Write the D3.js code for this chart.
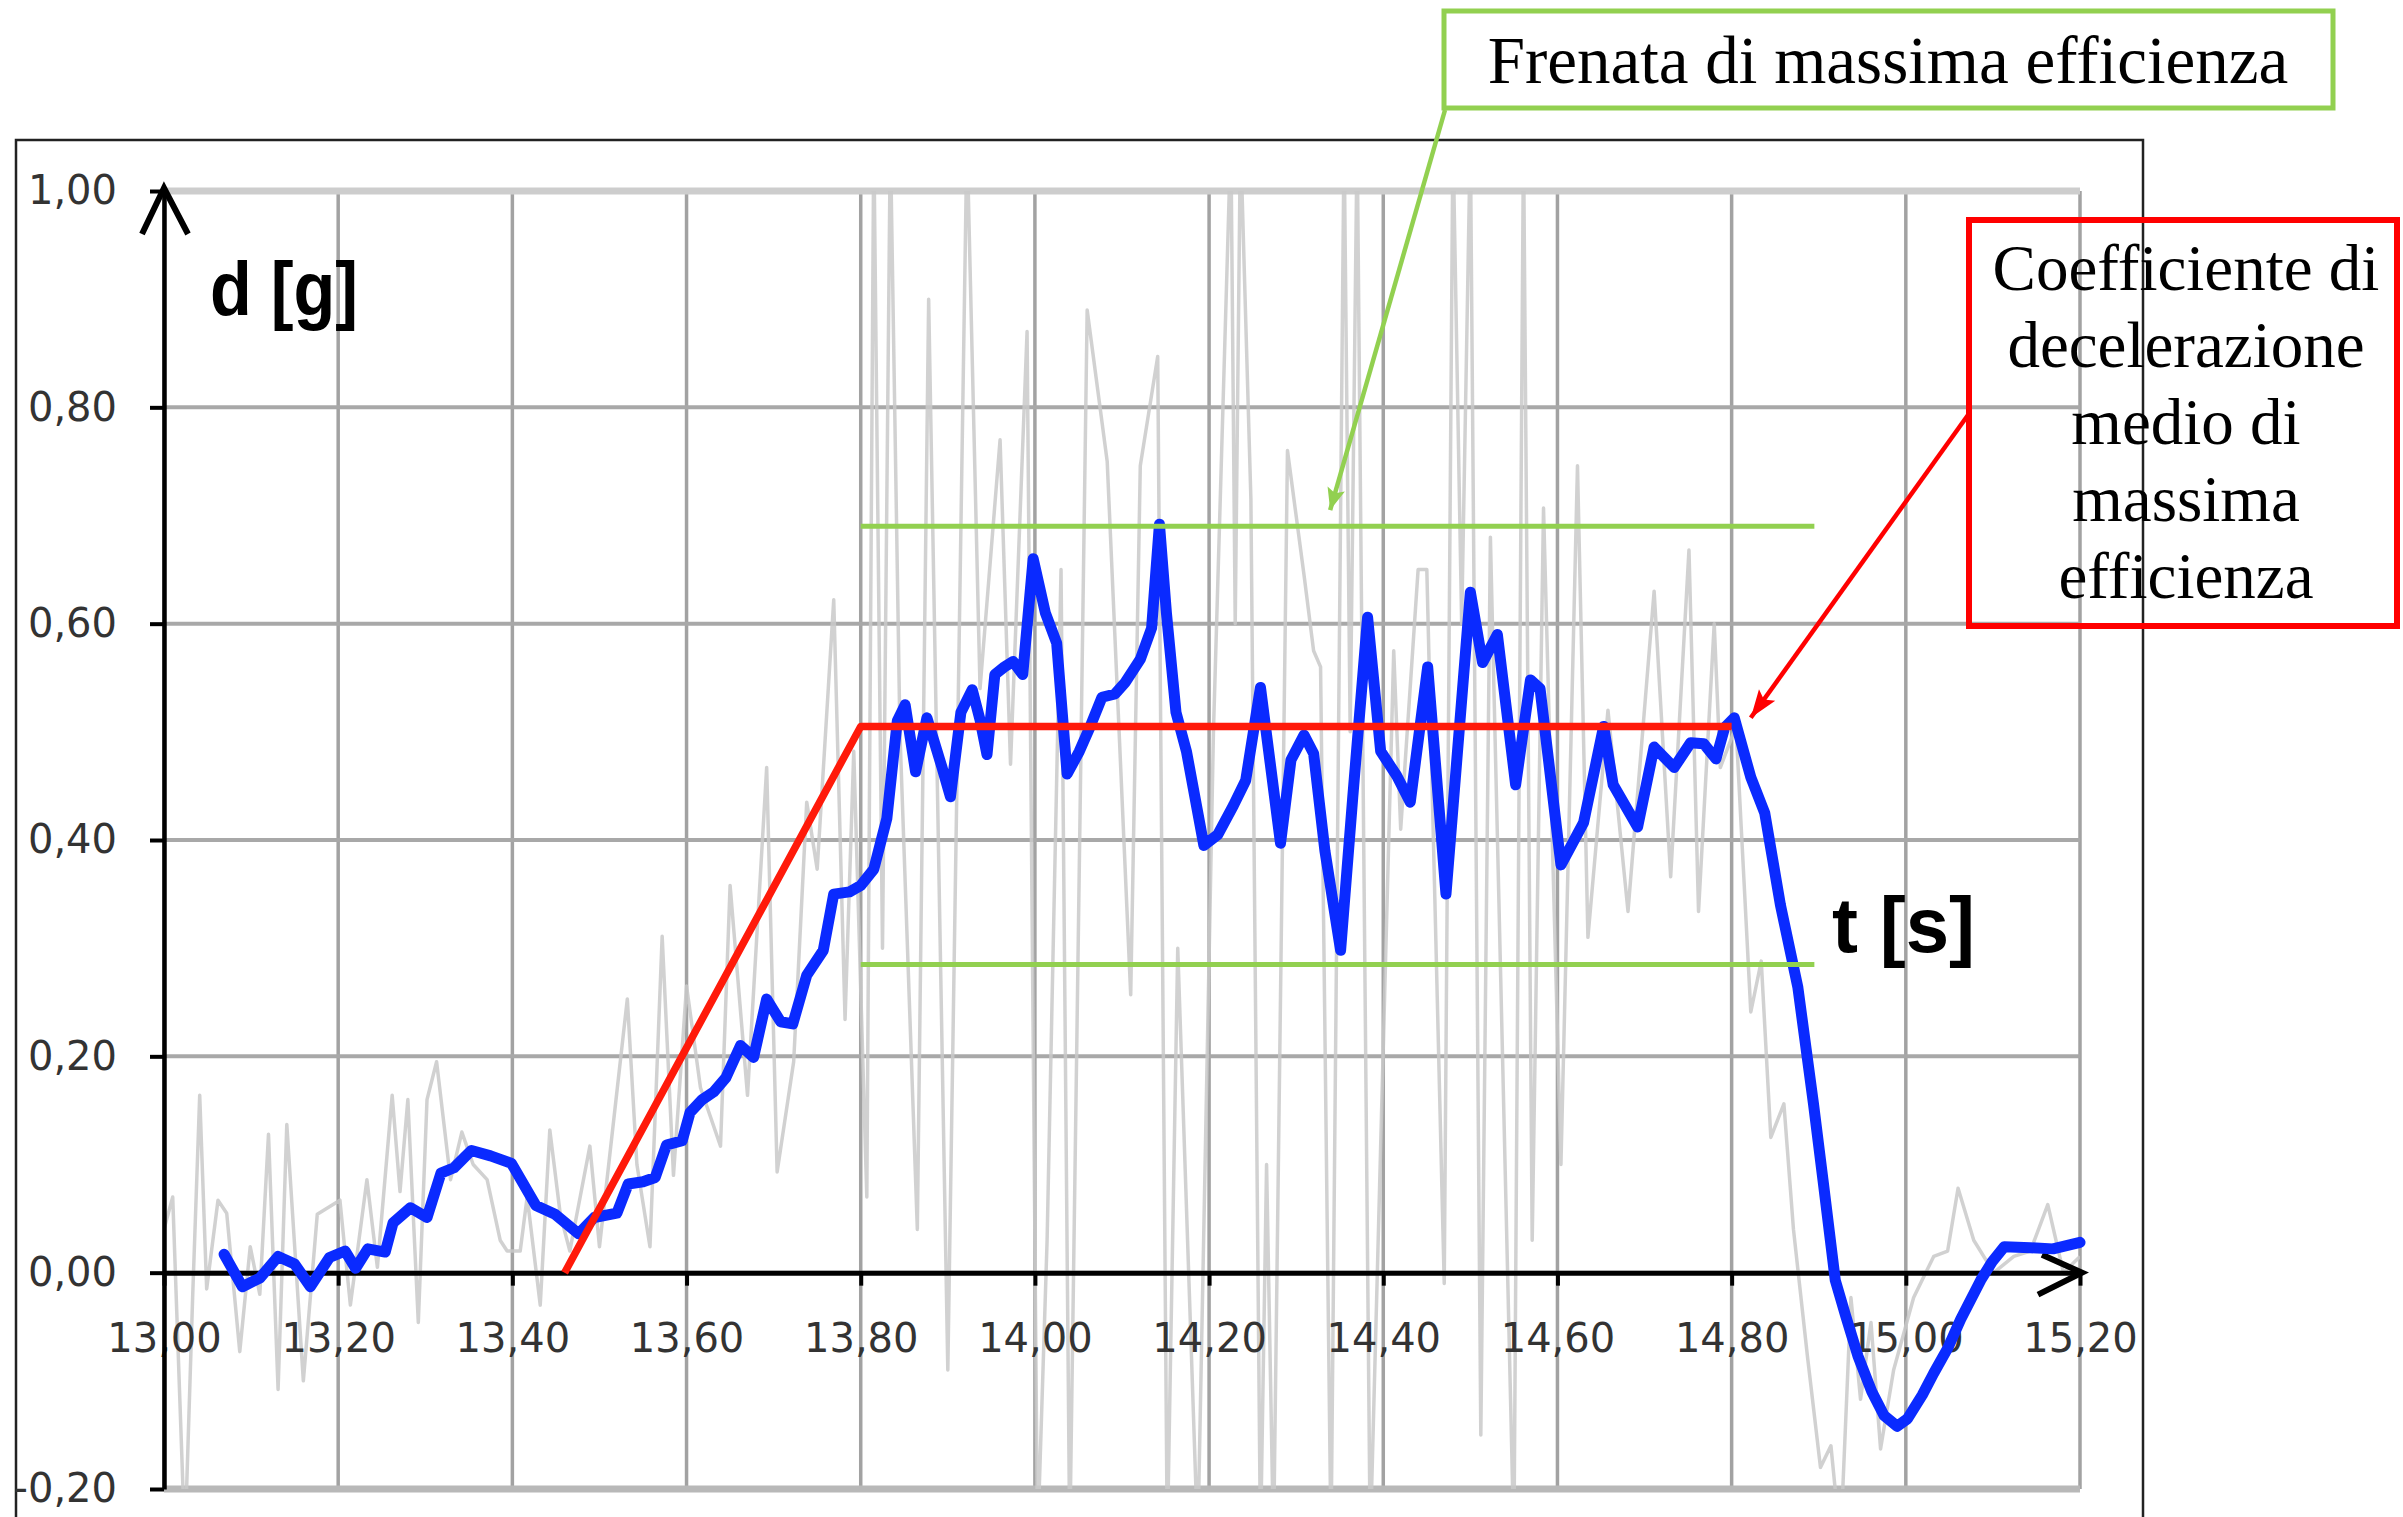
<!DOCTYPE html>
<html>
<head>
<meta charset="utf-8">
<script src="https://cdn.jsdelivr.net/npm/d3@7"></script>
<style>
  html, body { margin: 0; padding: 0; background: #ffffff; }
  svg { display: block; }
</style>
</head>
<body>
<svg id="chart" width="2403" height="1517"></svg>
<script>
// ---- axis ticks ----
const xTicks = [13.0, 13.2, 13.4, 13.6, 13.8, 14.0, 14.2, 14.4, 14.6, 14.8, 15.0, 15.2];
const yTicks = [-0.2, 0.0, 0.2, 0.4, 0.6, 0.8, 1.0];

// ---- filtered deceleration d [g] vs time t [s] ----
const smoothT = [13.069, 13.090, 13.110, 13.131, 13.150, 13.168, 13.190, 13.208, 13.220, 13.234,
  13.254, 13.263, 13.283, 13.302, 13.318, 13.333, 13.353, 13.375, 13.399, 13.427,
  13.449, 13.476, 13.494, 13.520, 13.533, 13.550, 13.564, 13.577, 13.595, 13.604,
  13.618, 13.631, 13.645, 13.662, 13.677, 13.692, 13.708, 13.722, 13.738, 13.757,
  13.769, 13.787, 13.800, 13.815, 13.830, 13.842, 13.851, 13.863, 13.876, 13.893,
  13.903, 13.915, 13.928, 13.937, 13.945, 13.954, 13.965, 13.975, 13.986, 13.998,
  14.012, 14.025, 14.037, 14.051, 14.063, 14.077, 14.092, 14.104, 14.121, 14.134,
  14.143, 14.151, 14.162, 14.174, 14.194, 14.210, 14.228, 14.242, 14.259, 14.282,
  14.294, 14.309, 14.320, 14.333, 14.351, 14.365, 14.382, 14.397, 14.415, 14.431,
  14.451, 14.472, 14.500, 14.514, 14.531, 14.552, 14.569, 14.580, 14.604, 14.630,
  14.653, 14.664, 14.692, 14.711, 14.734, 14.753, 14.768, 14.782, 14.792, 14.803,
  14.822, 14.838, 14.856, 14.876, 14.894, 14.905, 14.919, 14.931, 14.945, 14.961,
  14.975, 14.990, 15.002, 15.019, 15.032, 15.048, 15.063, 15.086, 15.099, 15.113,
  15.143, 15.169, 15.200];
const smoothD = [0.017, -0.013, -0.005, 0.015, 0.008, -0.013, 0.014, 0.020, 0.004, 0.022,
  0.019, 0.046, 0.060, 0.051, 0.092, 0.097, 0.113, 0.108, 0.101, 0.062,
  0.054, 0.036, 0.051, 0.055, 0.082, 0.084, 0.088, 0.118, 0.122, 0.148,
  0.160, 0.167, 0.180, 0.210, 0.199, 0.253, 0.232, 0.230, 0.275, 0.298,
  0.350, 0.352, 0.358, 0.373, 0.420, 0.510, 0.525, 0.463, 0.513, 0.468,
  0.440, 0.518, 0.539, 0.511, 0.479, 0.553, 0.560, 0.565, 0.553, 0.660,
  0.610, 0.582, 0.461, 0.482, 0.504, 0.532, 0.535, 0.546, 0.567, 0.596,
  0.692, 0.610, 0.518, 0.482, 0.395, 0.405, 0.432, 0.455, 0.541, 0.397,
  0.474, 0.497, 0.480, 0.390, 0.298, 0.440, 0.606, 0.482, 0.460, 0.435,
  0.560, 0.350, 0.629, 0.564, 0.590, 0.451, 0.548, 0.540, 0.377, 0.416,
  0.505, 0.451, 0.412, 0.486, 0.467, 0.490, 0.489, 0.475, 0.504, 0.513,
  0.458, 0.425, 0.340, 0.264, 0.156, 0.085, -0.007, -0.040, -0.077, -0.110,
  -0.132, -0.142, -0.135, -0.113, -0.093, -0.070, -0.043, -0.007, 0.010, 0.024,
  0.023, 0.022, 0.028];

// ---- raw accelerometer signal ----
const rawT = [13.000, 13.010, 13.024, 13.033, 13.041, 13.049, 13.062, 13.072, 13.087, 13.099,
  13.110, 13.120, 13.131, 13.141, 13.160, 13.176, 13.202, 13.214, 13.233, 13.245,
  13.262, 13.271, 13.280, 13.292, 13.302, 13.313, 13.329, 13.342, 13.355, 13.371,
  13.386, 13.394, 13.409, 13.417, 13.432, 13.443, 13.455, 13.466, 13.489, 13.500,
  13.532, 13.543, 13.558, 13.572, 13.585, 13.600, 13.616, 13.639, 13.650, 13.670,
  13.692, 13.704, 13.723, 13.738, 13.750, 13.769, 13.782, 13.792, 13.807, 13.815,
  13.825, 13.834, 13.845, 13.865, 13.878, 13.900, 13.922, 13.937, 13.960, 13.972,
  13.991, 14.003, 14.014, 14.030, 14.040, 14.060, 14.083, 14.110, 14.121, 14.141,
  14.152, 14.164, 14.187, 14.205, 14.225, 14.230, 14.236, 14.248, 14.259, 14.266,
  14.274, 14.290, 14.309, 14.320, 14.328, 14.340, 14.355, 14.362, 14.370, 14.385,
  14.412, 14.420, 14.440, 14.450, 14.470, 14.480, 14.490, 14.500, 14.512, 14.523,
  14.550, 14.561, 14.571, 14.584, 14.604, 14.623, 14.635, 14.658, 14.681, 14.711,
  14.730, 14.751, 14.762, 14.780, 14.787, 14.805, 14.822, 14.834, 14.845, 14.860,
  14.871, 14.887, 14.902, 14.914, 14.925, 14.937, 14.948, 14.960, 14.971, 14.986,
  15.009, 15.032, 15.048, 15.060, 15.078, 15.101, 15.124, 15.143, 15.163, 15.181,
  15.200];
const rawD = [0.040, 0.070, -0.250, -0.020, 0.164, -0.015, 0.067, 0.055, -0.073, 0.024,
  -0.020, 0.128, -0.108, 0.137, -0.100, 0.054, 0.067, -0.030, 0.086, 0.005,
  0.164, 0.075, 0.160, -0.046, 0.160, 0.195, 0.086, 0.130, 0.100, 0.086,
  0.030, 0.020, 0.020, 0.070, -0.030, 0.132, 0.054, 0.020, 0.117, 0.024,
  0.253, 0.100, 0.024, 0.311, 0.090, 0.265, 0.171, 0.117, 0.358, 0.164,
  0.467, 0.093, 0.195, 0.435, 0.373, 0.622, 0.234, 0.482, 0.070, 1.050,
  0.300, 1.050, 0.500, 0.040, 0.900, -0.090, 1.050, 0.540, 0.770, 0.470,
  0.870, -0.250, 0.030, 0.650, -0.250, 0.890, 0.750, 0.257, 0.746, 0.847,
  -0.250, 0.300, -0.250, 0.500, 1.050, 0.600, 1.050, 0.715, -0.250, 0.100,
  -0.250, 0.760, 0.645, 0.575, 0.560, -0.250, 1.050, 0.500, 1.050, -0.250,
  0.575, 0.410, 0.650, 0.650, -0.010, 1.050, 0.600, 1.050, -0.150, 0.680,
  -0.250, 1.050, 0.030, 0.707, 0.100, 0.746, 0.310, 0.520, 0.334, 0.630,
  0.366, 0.668, 0.334, 0.600, 0.467, 0.505, 0.241, 0.288, 0.125, 0.156,
  0.040, -0.077, -0.180, -0.160, -0.250, -0.023, -0.117, -0.046, -0.163, -0.090,
  -0.023, 0.015, 0.020, 0.078, 0.030, 0.000, 0.015, 0.020, 0.063, 0.000,
  0.015];

// ---- mean deceleration trapezoid and max-efficiency band ----
const meanT = [13.46, 13.80, 14.80];
const meanD = [0.0, 0.505, 0.505];
const bandT = [13.80, 14.895];
const bandLevels = [0.69, 0.285];

// ---- annotation targets (data space) ----
const bandArrowTip = [14.339, 0.705];
const meanArrowTip = [14.822, 0.513];

const svg = d3.select("#chart");

const x = d3.scaleLinear().domain([13.0, 15.2]).range([164, 2080]);
const y = d3.scaleLinear().domain([-0.2, 1.0]).range([1489, 191]);

const locale = d3.formatLocale({decimal: ",", thousands: ".", grouping: [3], currency: ["", ""], minus: "-"});
const fmt = locale.format(".2f");

const [x0, x1] = x.range();
const [yb, yt] = y.range();

// outer chart frame
svg.append("rect")
  .attr("x", 16).attr("y", 140).attr("width", 2127).attr("height", 1500)
  .attr("fill", "none").attr("stroke", "#222").attr("stroke-width", 2.5);

// grid
const grid = svg.append("g");
grid.selectAll("line.v").data(xTicks).join("line")
  .attr("class", "v")
  .attr("x1", d => x(d)).attr("x2", d => x(d))
  .attr("y1", yt).attr("y2", yb)
  .attr("stroke", "#a2a2a2").attr("stroke-width", 3.5);
grid.selectAll("line.h").data(yTicks).join("line")
  .attr("class", "h")
  .attr("x1", x0).attr("x2", x1)
  .attr("y1", d => y(d)).attr("y2", d => y(d))
  .attr("stroke", d => d === 1.0 ? "#cdcdcd" : (d === -0.2 ? "#b8b8b8" : "#a8a8a8"))
  .attr("stroke-width", d => (d === 1.0 || d === -0.2) ? 7 : 4);

// raw signal, clipped to the plot area
svg.append("clipPath").attr("id", "plotClip")
  .append("rect").attr("x", x0).attr("y", yt).attr("width", x1 - x0).attr("height", yb - yt);

const raw = rawT.map((t, i) => [t, rawD[i]]);
svg.append("path")
  .datum(raw)
  .attr("clip-path", "url(#plotClip)")
  .attr("fill", "none")
  .attr("stroke", "#c9c9c9")
  .attr("stroke-opacity", 0.85)
  .attr("stroke-width", 3.5)
  .attr("stroke-linejoin", "round")
  .attr("d", d3.line().x(d => x(d[0])).y(d => y(d[1])));

// axes
const fontTick = "'DejaVu Sans', Verdana, sans-serif";
const xAxis = svg.append("g")
  .attr("transform", `translate(0,${y(0)})`)
  .call(d3.axisBottom(x).tickValues(xTicks).tickSize(13).tickSizeOuter(0).tickPadding(38).tickFormat(fmt));
xAxis.select(".domain").attr("stroke", "#000").attr("stroke-width", 5);
xAxis.selectAll(".tick line").attr("stroke", "#000").attr("stroke-width", 4);
xAxis.selectAll(".tick text")
  .attr("font-family", fontTick).attr("font-size", 40).attr("fill", "#333");

const yAxis = svg.append("g")
  .attr("transform", `translate(${x0},0)`)
  .call(d3.axisLeft(y).tickValues(yTicks).tickSize(14).tickSizeOuter(0).tickPadding(33).tickFormat(fmt));
yAxis.select(".domain").attr("stroke", "#000").attr("stroke-width", 4.5);
yAxis.selectAll(".tick line").attr("stroke", "#000").attr("stroke-width", 4);
yAxis.selectAll(".tick text")
  .attr("font-family", fontTick).attr("font-size", 40).attr("fill", "#333");

// axis arrowheads
const yTip = [x0, yt - 3];
svg.append("path")
  .attr("d", `M${yTip[0] - 22},${yTip[1] + 46} L${yTip[0]},${yTip[1]} L${yTip[0] + 24},${yTip[1] + 46}`)
  .attr("fill", "none").attr("stroke", "#000").attr("stroke-width", 6);
const xTip = [x1 + 2, y(0)];
svg.append("path")
  .attr("d", `M${xTip[0] - 40},${xTip[1] - 18} L${xTip[0]},${xTip[1]} L${xTip[0] - 44},${xTip[1] + 22}`)
  .attr("fill", "none").attr("stroke", "#000").attr("stroke-width", 6);

// axis titles
const fontTitle = "'Liberation Sans', Arial, sans-serif";
svg.append("text").text("d [g]")
  .attr("x", 210).attr("y", 315)
  .attr("font-family", fontTitle).attr("font-weight", "bold").attr("font-size", 76)
  .attr("textLength", 148).attr("lengthAdjust", "spacingAndGlyphs");
svg.append("text").text("t [s]")
  .attr("x", 1832).attr("y", 952)
  .attr("font-family", fontTitle).attr("font-weight", "bold").attr("font-size", 78)
  .attr("textLength", 143).attr("lengthAdjust", "spacingAndGlyphs");

// filtered deceleration
const smooth = smoothT.map((t, i) => [t, smoothD[i]]);
svg.append("path")
  .datum(smooth)
  .attr("fill", "none")
  .attr("stroke", "#0a2aff")
  .attr("stroke-width", 11)
  .attr("stroke-linejoin", "round")
  .attr("stroke-linecap", "round")
  .attr("d", d3.line().x(d => x(d[0])).y(d => y(d[1])));

// max-efficiency band limits
svg.selectAll("line.band").data(bandLevels).join("line")
  .attr("class", "band")
  .attr("x1", x(bandT[0])).attr("x2", x(bandT[1]))
  .attr("y1", d => y(d)).attr("y2", d => y(d))
  .attr("stroke", "#92d050").attr("stroke-width", 5);

// mean deceleration profile
const mean = meanT.map((t, i) => [t, meanD[i]]);
svg.append("path")
  .datum(mean)
  .attr("fill", "none")
  .attr("stroke", "#ff1a0a")
  .attr("stroke-width", 7.5)
  .attr("stroke-linejoin", "round")
  .attr("d", d3.line().x(d => x(d[0])).y(d => y(d[1])));

// annotation arrowheads
const defs = svg.append("defs");
function marker(id, color, len, half) {
  defs.append("marker")
    .attr("id", id)
    .attr("markerUnits", "userSpaceOnUse")
    .attr("markerWidth", 1).attr("markerHeight", 1)
    .attr("refX", 0).attr("refY", 0)
    .attr("orient", "auto")
    .style("overflow", "visible")
    .append("path")
    .attr("d", `M0,0 L${-len},${-half} L${-len * 0.8},0 L${-len},${half} Z`)
    .attr("fill", color);
}
marker("arrowGreen", "#92d050", 22, 9);
marker("arrowRed", "#ff0000", 28, 10);

const fontNote = "'Liberation Serif', 'Times New Roman', serif";

// band annotation
svg.append("rect")
  .attr("x", 1444).attr("y", 11).attr("width", 889).attr("height", 97)
  .attr("fill", "none").attr("stroke", "#92d050").attr("stroke-width", 5);
svg.append("text").text("Frenata di massima efficienza")
  .attr("x", 1888).attr("y", 83)
  .attr("text-anchor", "middle")
  .attr("font-family", fontNote).attr("font-size", 67).attr("fill", "#000");
svg.append("line")
  .attr("x1", 1445).attr("y1", 110)
  .attr("x2", x(bandArrowTip[0])).attr("y2", y(bandArrowTip[1]))
  .attr("stroke", "#92d050").attr("stroke-width", 4.5)
  .attr("marker-end", "url(#arrowGreen)");

// mean annotation
svg.append("rect")
  .attr("x", 1969).attr("y", 220).attr("width", 428).attr("height", 406)
  .attr("fill", "none").attr("stroke", "#ff0000").attr("stroke-width", 6);
const noteLines = ["Coefficiente di", "decelerazione", "medio di", "massima", "efficienza"];
svg.append("g").selectAll("text").data(noteLines).join("text")
  .text(d => d)
  .attr("x", 2186)
  .attr("y", (d, i) => 290 + i * 77)
  .attr("text-anchor", "middle")
  .attr("font-family", fontNote).attr("font-size", 65).attr("fill", "#000");
svg.append("line")
  .attr("x1", 1968).attr("y1", 415)
  .attr("x2", x(meanArrowTip[0])).attr("y2", y(meanArrowTip[1]))
  .attr("stroke", "#ff0000").attr("stroke-width", 4.5)
  .attr("marker-end", "url(#arrowRed)");
</script>
</body>
</html>
